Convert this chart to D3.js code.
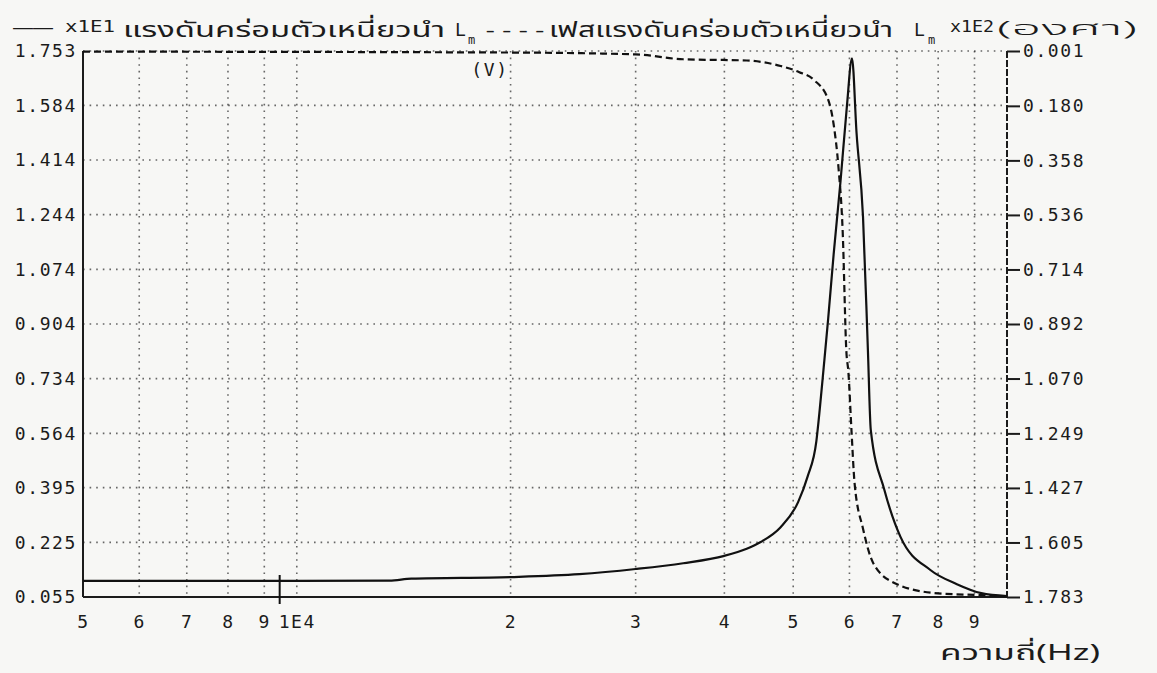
<!DOCTYPE html>
<html lang="th">
<head>
  <meta charset="utf-8">
  <title>แรงดันคร่อมตัวเหนี่ยวนำ Lm</title>
  <script src="https://d3js.org/d3.v7.min.js"></script>
  <style>
    body { margin: 0; background: #f7f7f5; }
    svg text { font-family: "DejaVu Sans Mono", "Liberation Mono", monospace; fill: #1b1b1b; }
    .thai { font-family: "Noto Sans Thai", "Noto Sans Thai Looped", "Loma", "Garuda", "Noto Sans", "DejaVu Sans", sans-serif; }
    .grid line { stroke: #2b2b2b; stroke-width: 1.6; stroke-dasharray: 1.6 5; opacity: .7; }
  </style>
</head>
<body>
<div id="chart"></div>
<script>
  // magnitude of the voltage across L_m (x1E1 V), left axis
  const freq = [5000, 10000, 13500, 14500, 20000, 25000, 30000, 35000, 40000, 43000, 45000, 48000,
    50800, 52400, 53900, 54500, 55200, 56000, 57000, 58300, 59500, 60500, 61400, 62700, 63700,
    64300, 67200, 70800, 78000, 85000, 92000, 100000];
  const magnitude = [0.105, 0.105, 0.106, 0.112, 0.117, 0.126, 0.142, 0.160, 0.183, 0.205, 0.226, 0.272,
    0.350, 0.430, 0.540, 0.640, 0.770, 0.920, 1.120, 1.350, 1.580, 1.730, 1.498, 1.237, 0.823,
    0.574, 0.388, 0.242, 0.139, 0.095, 0.067, 0.058];

  // phase of the same voltage (x1E2 degrees), right axis
  const phaseFreq = [5000, 20000, 30000, 35000, 43000, 48000, 51000, 53500, 56000, 57000, 57900, 58700,
    59400, 59800, 60400, 61000, 62700, 64800, 69400, 79000, 92000, 100000];
  const phase = [0.003, 0.006, 0.012, 0.028, 0.032, 0.050, 0.070, 0.096, 0.160, 0.240, 0.380, 0.590,
    0.980, 1.050, 1.240, 1.410, 1.560, 1.672, 1.737, 1.770, 1.777, 1.781];

  const leftTicks = [0.055, 0.225, 0.395, 0.564, 0.734, 0.904, 1.074, 1.244, 1.414, 1.584, 1.753];
  const rightTicks = [0.001, 0.180, 0.358, 0.536, 0.714, 0.892, 1.070, 1.249, 1.427, 1.605, 1.783];
  const xTicks = [5000, 6000, 7000, 8000, 9000, 10000, 20000, 30000, 40000, 50000, 60000, 70000, 80000, 90000];
  const xTickLabels = ["5", "6", "7", "8", "9", "1E4", "2", "3", "4", "5", "6", "7", "8", "9"];
  const cursorFreq = 9460;

  const width = 1157, height = 673;
  const margin = { top: 51, right: 150, bottom: 76, left: 83 };

  const x = d3.scaleLog().domain([5000, 100000]).range([margin.left, width - margin.right]);
  const yL = d3.scaleLinear().domain([0.055, 1.753]).range([height - margin.bottom, margin.top]);
  const yR = d3.scaleLinear().domain([0.001, 1.783]).range([margin.top, height - margin.bottom]);
  const x0 = margin.left, x1 = width - margin.right, yTop = margin.top, yBot = height - margin.bottom;

  const svg = d3.select("#chart").append("svg")
    .attr("width", width)
    .attr("height", height)
    .attr("viewBox", [0, 0, width, height]);

  // dotted grid
  const grid = svg.append("g").attr("class", "grid");
  grid.selectAll("line.v")
    .data(xTicks.slice(1))
    .join("line")
    .attr("x1", d => x(d)).attr("x2", d => x(d))
    .attr("y1", yTop).attr("y2", yBot);
  grid.selectAll("line.h")
    .data(leftTicks.slice(1))
    .join("line")
    .attr("x1", x0).attr("x2", x1)
    .attr("y1", d => yL(d)).attr("y2", d => yL(d));

  // frame: left solid, bottom solid, right dashed
  svg.append("line").attr("x1", x0).attr("x2", x0).attr("y1", yTop).attr("y2", yBot)
    .attr("stroke", "#1b1b1b").attr("stroke-width", 2);
  svg.append("line").attr("x1", x0).attr("x2", x1).attr("y1", yBot).attr("y2", yBot)
    .attr("stroke", "#1b1b1b").attr("stroke-width", 2);
  svg.append("line").attr("x1", x1).attr("x2", x1).attr("y1", yTop).attr("y2", yBot)
    .attr("stroke", "#1b1b1b").attr("stroke-width", 2).attr("stroke-dasharray", "7 2");

  // axes
  const leftAxis = svg.append("g")
    .attr("transform", `translate(${x0 - 2},0)`)
    .call(d3.axisLeft(yL).tickValues(leftTicks).tickFormat(d3.format(".3f")).tickSize(0).tickPadding(4));
  const rightAxis = svg.append("g")
    .attr("transform", `translate(${x1},0)`)
    .call(d3.axisRight(yR).tickValues(rightTicks).tickFormat(d3.format(".3f")).tickSize(13).tickPadding(3));
  const bottomAxis = svg.append("g")
    .attr("transform", `translate(0,${yBot + 10})`)
    .call(d3.axisBottom(x).tickValues(xTicks).tickFormat((d, i) => xTickLabels[i]).tickSize(0).tickPadding(8));

  [leftAxis, rightAxis, bottomAxis].forEach(g => {
    g.select(".domain").remove();
    g.selectAll("text").attr("font-size", 18).attr("letter-spacing", 1.6)
      .attr("font-family", "DejaVu Sans Mono, monospace").attr("fill", "#1b1b1b");
  });
  rightAxis.selectAll(".tick line").attr("stroke", "#1b1b1b").attr("stroke-width", 2);

  // curves
  const magLine = d3.line()
    .x((d, i) => x(freq[i]))
    .y(d => yL(d))
    .curve(d3.curveMonotoneX);
  svg.append("path").datum(magnitude)
    .attr("d", magLine)
    .attr("fill", "none").attr("stroke", "#111").attr("stroke-width", 2.2);

  const phaseLine = d3.line()
    .x((d, i) => x(phaseFreq[i]))
    .y(d => yR(d))
    .curve(d3.curveMonotoneX);
  svg.append("path").datum(phase)
    .attr("d", phaseLine)
    .attr("fill", "none").attr("stroke", "#111").attr("stroke-width", 2.2)
    .attr("stroke-dasharray", "7 4");

  // cursor mark
  svg.append("line")
    .attr("x1", x(cursorFreq)).attr("x2", x(cursorFreq))
    .attr("y1", yBot - 22).attr("y2", yBot + 7)
    .attr("stroke", "#111").attr("stroke-width", 2);

  // title line
  const title = svg.append("g");
  const piece = (txt, px, py, size, len, cls) => {
    const t = title.append("text").attr("x", px).attr("y", py).attr("font-size", size).text(txt);
    if (len) t.attr("textLength", len).attr("lengthAdjust", "spacingAndGlyphs");
    if (cls) t.attr("class", cls);
    return t;
  };
  piece("——", 13, 34, 18, 40);
  piece("x1E1", 65, 32, 15, 50);
  piece("แรงดันคร่อมตัวเหนี่ยวนำ", 123, 37, 22, 322, "thai");
  piece("L", 455, 36, 18);
  piece("m", 468, 44, 12);
  piece("----", 482, 36, 18, 66);
  piece("เฟสแรงดันคร่อมตัวเหนี่ยวนำ", 549, 37, 22, 344, "thai");
  piece("L", 914, 36, 18);
  piece("m", 928, 44, 12);
  piece("x1E2", 950, 32, 15, 44);
  piece("(องศา)", 997, 35, 20, 140, "thai").attr("font-weight", 300);

  svg.append("text").attr("x", 490).attr("y", 76).attr("text-anchor", "middle")
    .attr("font-size", 18).attr("letter-spacing", 1.6).text("(V)");

  svg.append("text").attr("class", "thai").attr("x", 940).attr("y", 660)
    .attr("font-size", 22).attr("textLength", 160).attr("lengthAdjust", "spacingAndGlyphs")
    .text("ความถี่(Hz)");
</script>
</body>
</html>
